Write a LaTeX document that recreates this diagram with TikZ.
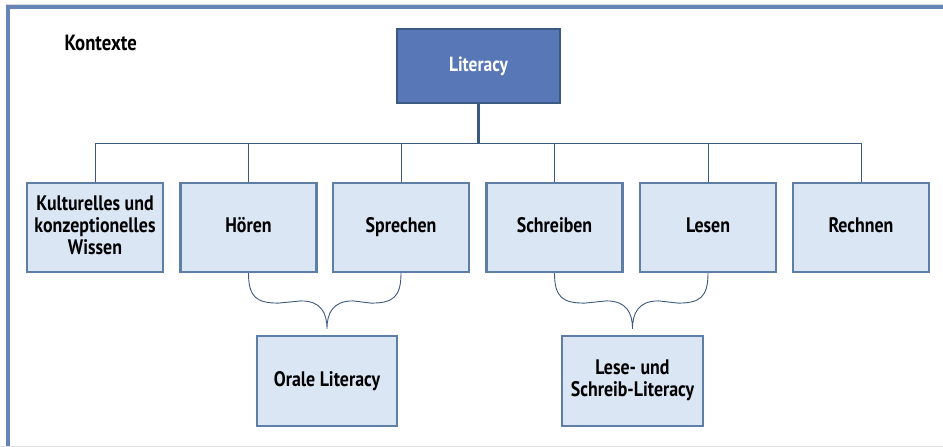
\documentclass[tikz,border=0pt]{standalone}
\usepackage{fontspec}
\setmainfont{PT Sans}[FakeStretch=0.85]
\usetikzlibrary{calc}
\definecolor{framec}{HTML}{6784B6}
\definecolor{topfill}{HTML}{5877B7}
\definecolor{topdraw}{HTML}{3B5A82}
\definecolor{boxfill}{HTML}{DBE6F5}
\definecolor{boxdraw}{HTML}{5E7EA6}
\definecolor{linec}{HTML}{3B5A80}
\tikzset{
  topbox/.style={draw=topdraw,fill=topfill,line width=2.5pt,text=white,
    minimum width=163pt,minimum height=74pt,font=\bfseries\fontsize{20.5}{23}\selectfont},
  childbox/.style={draw=boxdraw,fill=boxfill,line width=2.2pt,align=center,
    minimum width=136pt,minimum height=89pt,inner sep=1pt,text depth=5pt,
    font=\bfseries\fontsize{21}{22}\selectfont},
  conn/.style={draw=linec,line width=0.9pt},
}
% curly brace from two boxes down to a tip
\def\obrace#1#2#3{%
  \draw[conn] (#1) .. controls ($(#1)+(0,24)$) and ($(#1)+(8,30)$) .. ($(#1)+(30,30)$)
    -- ($(#3)+(-26,-28)$) .. controls ($(#3)+(-6,-28)$) and ($(#3)+(0,-16)$) .. (#3)
    .. controls ($(#3)+(0,-16)$) and ($(#3)+(6,-28)$) .. ($(#3)+(26,-28)$)
    -- ($(#2)+(-30,30)$) .. controls ($(#2)+(-8,30)$) and ($(#2)+(0,24)$) .. (#2);}

\begin{document}
\begin{tikzpicture}[x=1pt,y=-1pt]
  \useasboundingbox (0,0) rectangle (943,447);
  % frame
  \draw[black!12,line width=1pt] (0,446) -- (943,446);
  \draw[black!15,line width=1pt] (6,4) -- (943,4);
  \draw[framec,line width=3.5pt] (6,6.8) -- (943,6.8);
  \draw[framec,line width=3.5pt] (8,5) -- (8,446);
  \node[anchor=west,font=\bfseries\fontsize{22}{24}\selectfont] (kontexte) at (61,43) {Kontexte};

  \node[topbox] (literacy) at (478.5,66) {Literacy};

  \node[childbox] (wissen)    at (95,227.5)  {Kulturelles und\\konzeptionelles\\Wissen};
  \node[childbox] (hoeren)    at (248.5,227.5) {Hören};
  \node[childbox] (sprechen)  at (401,227.5) {Sprechen};
  \node[childbox] (schreiben) at (554.5,227.5) {Schreiben};
  \node[childbox] (lesen)     at (708,227.5) {Lesen};
  \node[childbox] (rechnen)   at (861,227.5) {Rechnen};

  \node[childbox,minimum width=140pt,minimum height=90pt] (oral) at (327,381) {Orale Literacy};
  \node[childbox,minimum width=141pt,minimum height=90pt] (leseschreib) at (632.5,381) {Lese- und\\Schreib-Literacy};

  % tree
  \coordinate (bus) at (478.5,143);
  \draw[conn,line width=3pt] (literacy.south) -- (bus);
  \draw[conn] (wissen.north |- bus) -- (rechnen.north |- bus);
  \foreach \n in {wissen,hoeren,sprechen,schreiben,lesen,rechnen}
    \draw[conn] (\n.north |- bus) -- (\n.north);

  % braces
  \coordinate (oraltip) at ($(oral.north)+(0,-6)$);
  \coordinate (lesetip) at ($(leseschreib.north)+(0,-6)$);
  \obrace{hoeren.south}{sprechen.south}{oraltip}
  \obrace{schreiben.south}{lesen.south}{lesetip}
\end{tikzpicture}
\end{document}
